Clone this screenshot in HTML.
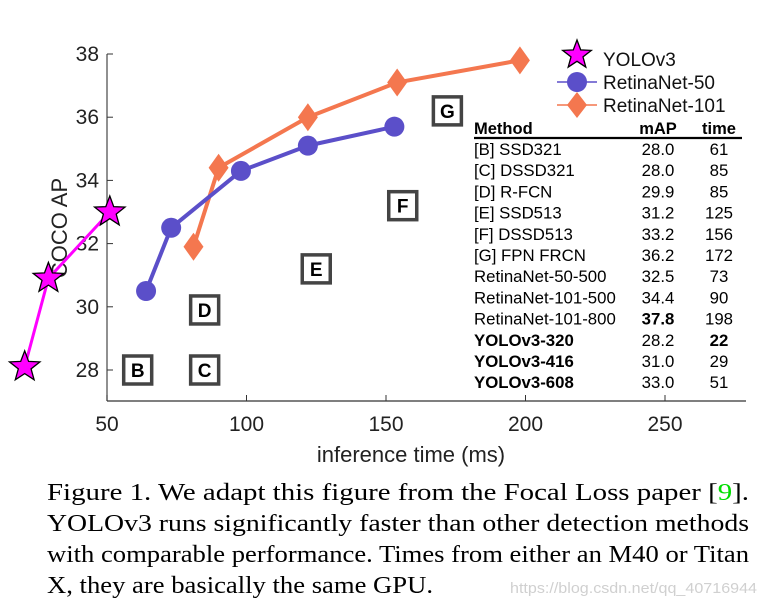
<!DOCTYPE html>
<html><head><meta charset="utf-8"><style>
body{margin:0;background:#fff}
svg{display:block}
</style></head><body>
<svg id="chart" width="764" height="610" viewBox="0 0 764 610" xmlns="http://www.w3.org/2000/svg" font-family="'Liberation Sans', sans-serif">
<g id="axes"></g>
<g id="series"></g>
<g id="legend"></g>
<g id="table"></g>
<g font-family="'Liberation Serif', serif" font-size="24" fill="#000">
<text x="47" y="500" textLength="702" lengthAdjust="spacingAndGlyphs">Figure 1. We adapt this figure from the Focal Loss paper [<tspan fill="#00dd00">9</tspan>].</text>
<text x="47" y="531" textLength="702" lengthAdjust="spacingAndGlyphs">YOLOv3 runs significantly faster than other detection methods</text>
<text x="47" y="562" textLength="702" lengthAdjust="spacingAndGlyphs">with comparable performance. Times from either an M40 or Titan</text>
<text x="47" y="593" textLength="386" lengthAdjust="spacingAndGlyphs">X, they are basically the same GPU.</text>
</g>
<text x="510" y="593" font-size="15" fill="#d0d0d0" textLength="247" lengthAdjust="spacingAndGlyphs">https://blog.csdn.net/qq_40716944</text>
</svg>
<script>
const xTicks=[50,100,150,200,250];
const yTicks=[28,30,32,34,36,38];
const yoloTime=[20.5,29,51];
const yoloAP=[28.1,30.9,33.0];
const r50Time=[64,73,98,122,153];
const r50AP=[30.5,32.5,34.3,35.1,35.7];
const r101Time=[81,90,122,154,198];
const r101AP=[31.9,34.4,36.0,37.1,37.8];
const boxLabels=['B','C','D','E','F','G'];
const boxTime=[61,85,85,125,156,172];
const boxAP=[28.0,28.0,29.9,31.2,33.2,36.2];
const tblMethods=['[B] SSD321','[C] DSSD321','[D] R-FCN','[E] SSD513','[F] DSSD513','[G] FPN FRCN','RetinaNet-50-500','RetinaNet-101-500','RetinaNet-101-800','YOLOv3-320','YOLOv3-416','YOLOv3-608'];
const tblMAP=['28.0','28.0','29.9','31.2','33.2','36.2','32.5','34.4','37.8','28.2','31.0','33.0'];
const tblTime=['61','85','85','125','156','172','73','90','198','22','29','51'];

const NS='http://www.w3.org/2000/svg';
const X=v=>107+(v-50)*2.79;
const Y=v=>370-(v-28)*31.6;
function mk(tag,attrs,parent,text){const e=document.createElementNS(NS,tag);for(const k in attrs)e.setAttribute(k,attrs[k]);if(text!==undefined)e.textContent=text;parent.appendChild(e);return e;}
const axes=document.getElementById('axes'),series=document.getElementById('series'),legend=document.getElementById('legend'),table=document.getElementById('table');

let el=mk('line',{x1:107,y1:Y(38),x2:107,y2:401,stroke:'#555','stroke-width':1.3},axes);


el=mk('line',{x1:107,y1:401,x2:746,y2:401,stroke:'#333','stroke-width':1.3},axes);


xTicks.forEach(t=>{
  let tk=mk('line',{x1:X(t),y1:401,x2:X(t),y2:395,stroke:'#333','stroke-width':1},axes);
  
  
  let lb=mk('text',{x:X(t),y:431,'text-anchor':'middle','font-size':21,fill:'#222'},axes,String(t));
  
  
});
yTicks.forEach(t=>{
  let tk=mk('line',{x1:107,y1:Y(t),x2:113,y2:Y(t),stroke:'#333','stroke-width':1},axes);
  
  
  let lb=mk('text',{x:99,y:Y(t)+7,'text-anchor':'end','font-size':21,fill:'#222'},axes,String(t));
  
  
});
el=mk('text',{x:411,y:462,'text-anchor':'middle','font-size':22,fill:'#222'},axes,'inference time (ms)');


el=mk('text',{x:0,y:0,'text-anchor':'middle','font-size':22,fill:'#222',transform:'translate(67,228) rotate(-90)'},axes,'COCO AP');



boxLabels.forEach((l,i)=>{
  const g=mk('g',{},series);
  
  
  const cx=X(boxTime[i]),cy=Y(boxAP[i]);
  mk('rect',{x:cx-14,y:cy-14,width:28,height:28,fill:'#fff',stroke:'#444','stroke-width':3.5},g);
  mk('text',{x:cx,y:cy+7,'text-anchor':'middle','font-size':19,'font-weight':'bold',fill:'#000'},g,l);
});

function star(cx,cy,R){const r=R*0.42;let p=[];for(let i=0;i<10;i++){const a=-Math.PI/2+i*Math.PI/5;const rr=i%2?r:R;p.push((cx+rr*Math.cos(a)).toFixed(1)+','+(cy+rr*Math.sin(a)).toFixed(1));}return p.join(' ');}
function diamond(cx,cy,w,h){return `${cx},${cy-h} ${cx+w},${cy} ${cx},${cy+h} ${cx-w},${cy}`;}
function line(xs,ys,color,w,name){
  const pts=xs.map((t,i)=>X(t)+','+Y(ys[i])).join(' ');
  const p=mk('polyline',{points:pts,fill:'none',stroke:color,'stroke-width':w,'stroke-linejoin':'round'},series);
  
  
}
line(r101Time,r101AP,'#f4774f',4,'retinanet-101-line');
r101Time.forEach((t,i)=>{
  const d=mk('polygon',{points:diamond(X(t),Y(r101AP[i]),10,14),fill:'#f4774f'},series);
  
  
});
line(r50Time,r50AP,'#5b4fc9',4,'retinanet-50-line');
r50Time.forEach((t,i)=>{
  const c=mk('circle',{cx:X(t),cy:Y(r50AP[i]),r:10,fill:'#5b4fc9'},series);
  
  
});
line(yoloTime,yoloAP,'#ff00ff',3,'yolov3-line');
yoloTime.forEach((t,i)=>{
  const s=mk('polygon',{points:star(X(t),Y(yoloAP[i]),16),fill:'#ff00ff',stroke:'#000','stroke-width':1.3},series);
  
  
});

let lg=mk('g',{},legend);


mk('polygon',{points:star(577,55,15),fill:'#ff00ff',stroke:'#000','stroke-width':1.3},lg);
mk('text',{x:603,y:66,'font-size':19,fill:'#111'},lg,'YOLOv3');
lg=mk('g',{},legend);


mk('line',{x1:557,y1:82,x2:597,y2:82,stroke:'#5b4fc9','stroke-width':1.5},lg);
mk('circle',{cx:577,cy:82,r:10,fill:'#5b4fc9'},lg);
mk('text',{x:603,y:89,'font-size':19,fill:'#111'},lg,'RetinaNet-50');
lg=mk('g',{},legend);


mk('line',{x1:557,y1:105,x2:597,y2:105,stroke:'#f4774f','stroke-width':1.5},lg);
mk('polygon',{points:diamond(577,105,10,13),fill:'#f4774f'},lg);
mk('text',{x:603,y:112,'font-size':19,fill:'#111'},lg,'RetinaNet-101');

el=mk('text',{x:474,y:134,'font-size':16.5,'font-weight':'bold',fill:'#000'},table,'Method');


el=mk('text',{x:658,y:134,'text-anchor':'middle','font-size':16.5,'font-weight':'bold',fill:'#000'},table,'mAP');


el=mk('text',{x:719,y:134,'text-anchor':'middle','font-size':16.5,'font-weight':'bold',fill:'#000'},table,'time');


el=mk('line',{x1:474,y1:138,x2:742,y2:138,stroke:'#000','stroke-width':2.2},table);


tblMethods.forEach((m,i)=>{
  const y=155+i*21.2;
  const g=mk('g',{'font-size':16.8,fill:'#000'},table);
  
  
  mk('text',{x:474,y:y,'font-weight':i>=9?'bold':'normal'},g,m);
  mk('text',{x:658,y:y,'text-anchor':'middle','font-weight':i==8?'bold':'normal'},g,tblMAP[i]);
  mk('text',{x:719,y:y,'text-anchor':'middle','font-weight':i==9?'bold':'normal'},g,tblTime[i]);
});
</script>
</body></html>
